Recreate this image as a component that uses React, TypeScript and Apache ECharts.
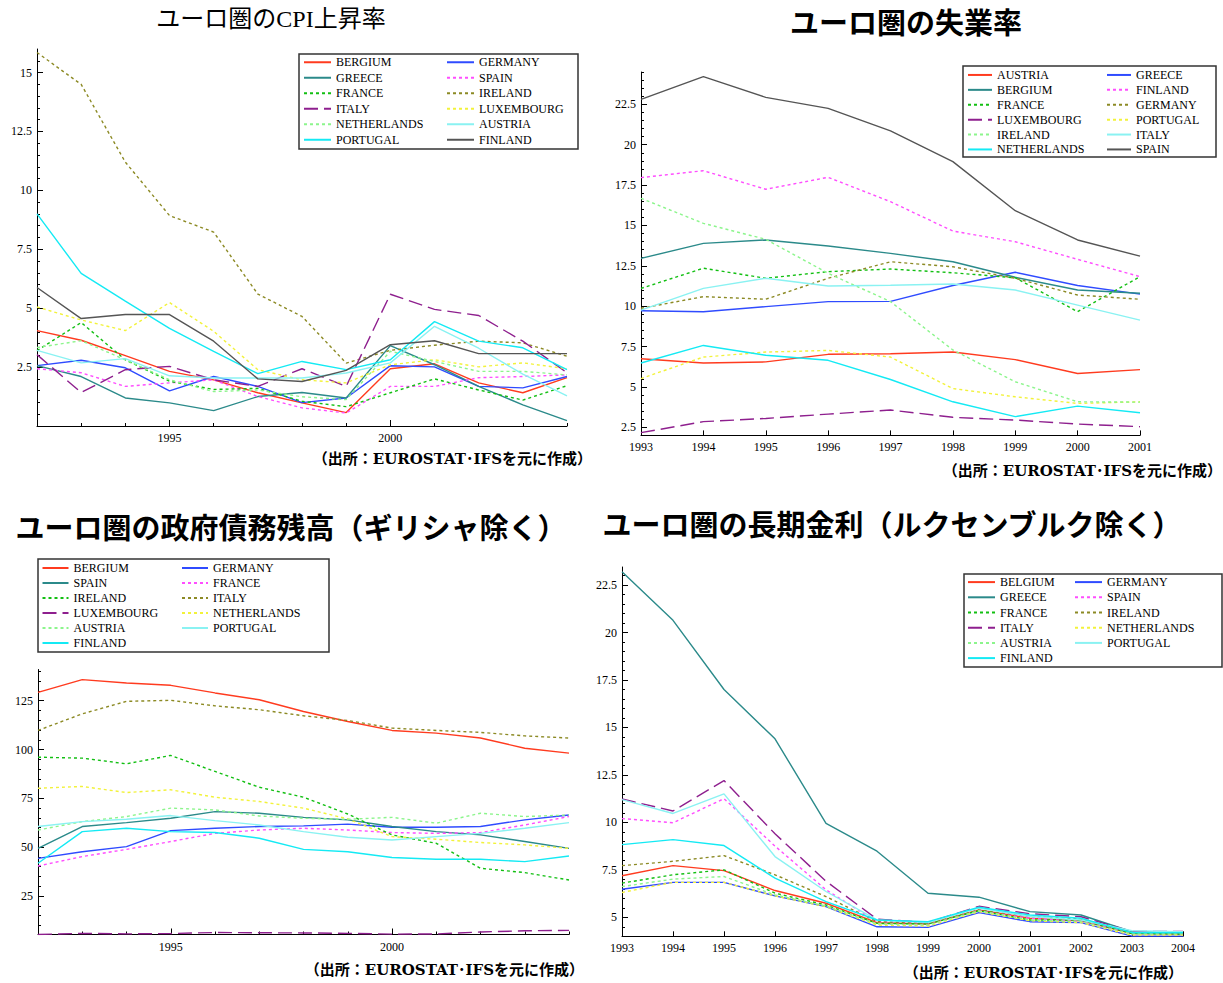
import React, { useEffect, useRef } from "react";
import * as echarts from "echarts";

// ---------- categories ----------
const cpiYears = ["1992", "1993", "1994", "1995", "1996", "1997", "1998", "1999", "2000", "2001", "2002", "2003", "2004"];
const unempYears = ["1993", "1994", "1995", "1996", "1997", "1998", "1999", "2000", "2001"];
const debtYears = ["1992", "1993", "1994", "1995", "1996", "1997", "1998", "1999", "2000", "2001", "2002", "2003", "2004"];
const rateYears = ["1993", "1994", "1995", "1996", "1997", "1998", "1999", "2000", "2001", "2002", "2003", "2004"];

// ---------- CPI inflation (%) ----------
const cpiNames = ["BERGIUM", "GERMANY", "GREECE", "SPAIN", "FRANCE", "IRELAND", "ITALY", "LUXEMBOURG", "NETHERLANDS", "AUSTRIA", "PORTUGAL", "FINLAND"];
const cpiBergium = [4.05, 3.64, 2.99, 2.32, 1.96, 1.41, 0.98, 0.57, 2.43, 2.64, 1.83, 1.41, 2.05];
const cpiGermany = [2.56, 2.79, 2.47, 1.49, 2.1, 1.68, 0.99, 1.19, 2.56, 2.51, 1.68, 1.62, 2.1];
const cpiGreece = [2.56, 2.1, 1.19, 0.98, 0.65, 1.25, 1.42, 1.19, 3.41, 2.6, 1.68, 0.9, 0.23];
const cpiSpain = [2.43, 2.26, 1.68, 1.83, 1.96, 1.25, 0.77, 0.55, 1.68, 1.68, 2.05, 2.1, 2.17];
const cpiFrance = [3.2, 4.39, 2.81, 1.9, 1.55, 1.6, 1.05, 0.82, 1.41, 2.0, 1.53, 1.1, 1.71];
const cpiIreland = [15.85, 14.5, 11.2, 8.93, 8.23, 5.6, 4.65, 2.67, 3.21, 3.43, 3.6, 3.53, 2.96];
const cpiItaly = [3.03, 1.42, 2.39, 2.53, 1.96, 1.68, 2.43, 1.68, 5.59, 4.95, 4.69, 3.6, 2.26];
const cpiLuxembourg = [5.05, 4.5, 4.05, 5.24, 4.02, 2.39, 1.96, 1.83, 2.6, 2.81, 2.51, 2.68, 2.43];
const cpiNetherlands = [3.33, 3.62, 2.81, 1.96, 1.46, 1.53, 1.24, 1.12, 3.17, 2.74, 2.32, 2.32, 2.17];
const cpiAustria = [3.21, 2.68, 2.86, 2.13, 2.04, 2.04, 2.04, 2.25, 2.68, 4.23, 3.3, 2.2, 1.28];
const cpiPortugal = [9.0, 6.48, 5.3, 4.14, 3.17, 2.22, 2.74, 2.39, 2.81, 4.43, 3.6, 3.32, 2.39];
const cpiFinland = [5.88, 4.56, 4.73, 4.73, 3.6, 2.0, 1.89, 2.36, 3.45, 3.62, 3.07, 3.07, 3.07];

// ---------- unemployment rate (%) ----------
const unempNames = ["AUSTRIA", "GREECE", "BERGIUM", "FINLAND", "FRANCE", "GERMANY", "LUXEMBOURG", "PORTUGAL", "IRELAND", "ITALY", "NETHERLANDS", "SPAIN"];
const unempAustria = [6.75, 6.48, 6.55, 7.02, 7.06, 7.16, 6.69, 5.83, 6.07];
const unempGreece = [9.72, 9.66, 9.97, 10.28, 10.3, 11.28, 12.1, 11.28, 10.75];
const unempBergium = [12.96, 13.89, 14.1, 13.73, 13.27, 12.75, 11.79, 11.0, 10.8];
const unempFinland = [17.96, 18.39, 17.24, 17.98, 16.47, 14.65, 13.99, 12.9, 11.83];
const unempFrance = [11.1, 12.35, 11.73, 12.14, 12.3, 12.07, 11.76, 9.66, 11.83];
const unempGermany = [9.87, 10.59, 10.43, 11.73, 12.75, 12.44, 11.73, 10.69, 10.43];
const unempLuxembourg = [2.17, 2.85, 3.05, 3.32, 3.57, 3.12, 2.95, 2.7, 2.54];
const unempPortugal = [5.52, 6.85, 7.16, 7.26, 6.85, 4.9, 4.39, 3.98, 4.08];
const unempIreland = [16.68, 15.13, 14.14, 12.04, 10.28, 7.29, 5.32, 4.08, 4.06];
const unempItaly = [9.76, 11.1, 11.73, 11.25, 11.3, 11.37, 11.0, 10.07, 9.14];
const unempNetherlands = [6.48, 7.57, 6.96, 6.65, 5.46, 4.08, 3.16, 3.81, 3.4];
const unempSpain = [22.81, 24.21, 22.93, 22.25, 20.85, 18.95, 15.91, 14.1, 13.1];

// ---------- government debt (% of GDP) ----------
const debtNames = ["BERGIUM", "GERMANY", "SPAIN", "FRANCE", "IRELAND", "ITALY", "LUXEMBOURG", "NETHERLANDS", "AUSTRIA", "PORTUGAL", "FINLAND"];
const debtBergium = [129.3, 135.8, 134.1, 132.9, 129.0, 125.5, 119.5, 114.4, 109.8, 108.4, 105.9, 100.7, 98.2];
const debtGermany = [44.3, 47.7, 50.3, 58.5, 59.7, 60.6, 60.9, 61.8, 60.2, 60.2, 60.6, 64.0, 66.5];
const debtSpain = [49.4, 60.6, 62.6, 64.8, 68.2, 67.4, 65.3, 64.0, 60.6, 58.0, 56.3, 52.9, 49.4];
const debtFrance = [40.4, 45.2, 48.9, 52.9, 57.1, 58.8, 59.7, 58.8, 57.5, 57.1, 57.5, 61.4, 65.7];
const debtIreland = [96.1, 95.6, 92.7, 97.0, 88.8, 80.7, 75.6, 67.0, 56.3, 52.0, 39.2, 37.0, 33.2];
const debtItaly = [109.8, 118.3, 124.7, 125.2, 122.4, 120.4, 117.3, 114.9, 111.0, 109.8, 108.8, 107.0, 105.9];
const debtLuxembourg = [5.3, 5.9, 5.6, 5.8, 6.3, 6.2, 6.1, 5.9, 5.5, 5.6, 6.6, 7.2, 7.4];
const debtNetherlands = [80.2, 81.1, 78.0, 79.4, 75.6, 73.4, 70.0, 64.5, 55.4, 54.1, 52.4, 51.2, 49.4];
const debtAustria = [58.8, 63.1, 65.7, 70.0, 69.1, 66.0, 64.8, 64.3, 65.3, 62.3, 67.4, 65.7, 66.5];
const debtPortugal = [60.6, 63.1, 64.3, 66.2, 63.6, 61.4, 58.0, 55.1, 53.7, 55.4, 57.1, 59.7, 62.6];
const debtFinland = [41.8, 58.0, 59.7, 58.0, 57.5, 54.6, 48.9, 47.7, 44.7, 43.8, 43.8, 42.6, 45.5];

// ---------- long-term interest rate (%) ----------
const rateNames = ["BELGIUM", "GERMANY", "GREECE", "SPAIN", "FRANCE", "IRELAND", "ITALY", "NETHERLANDS", "AUSTRIA", "PORTUGAL", "FINLAND"];
const rateBelgium = [7.19, 7.72, 7.46, 6.41, 5.74, 4.72, 4.65, 5.39, 4.95, 4.82, 4.15, 4.12];
const rateGermany = [6.48, 6.84, 6.84, 6.13, 5.56, 4.5, 4.47, 5.25, 4.77, 4.72, 4.01, 4.01];
const rateGreece = [23.2, 20.64, 17.0, 14.4, 9.95, 8.48, 6.27, 6.06, 5.3, 5.12, 4.24, 4.24];
const rateSpain = [10.2, 9.98, 11.25, 8.75, 6.45, 4.77, 4.68, 5.39, 4.95, 4.77, 4.19, 4.15];
const rateFrance = [6.8, 7.24, 7.5, 6.27, 5.65, 4.68, 4.65, 5.35, 4.86, 4.86, 4.15, 4.12];
const rateIreland = [7.72, 7.95, 8.25, 7.24, 6.09, 4.77, 4.68, 5.39, 5.04, 4.9, 4.19, 4.15];
const rateItaly = [11.23, 10.6, 12.2, 9.4, 6.9, 4.9, 4.73, 5.58, 5.19, 5.03, 4.25, 4.26];
const rateNetherlands = [6.31, 6.84, 6.84, 6.13, 5.56, 4.59, 4.54, 5.3, 4.82, 4.72, 4.06, 4.06];
const rateAustria = [6.62, 7.01, 7.15, 6.18, 5.6, 4.65, 4.59, 5.35, 4.86, 4.77, 4.12, 4.12];
const ratePortugal = [11.2, 10.47, 11.5, 8.2, 6.36, 4.86, 4.72, 5.48, 5.04, 4.86, 4.29, 4.24];
const rateFinland = [8.83, 9.09, 8.78, 7.06, 5.83, 4.86, 4.77, 5.53, 5.12, 4.95, 4.19, 4.19];

// ---------- y-axis tick labels ----------
const cpiTicks = [2.5, 5, 7.5, 10, 12.5, 15];
const unempTicks = [2.5, 5, 7.5, 10, 12.5, 15, 17.5, 20, 22.5];
const debtTicks = [25, 50, 75, 100, 125];
const rateTicks = [5, 7.5, 10, 12.5, 15, 17.5, 20, 22.5];

const TITLE_CPI = "ユーロ圏のCPI上昇率";
const TITLE_UNEMP = "ユーロ圏の失業率";
const TITLE_DEBT = "ユーロ圏の政府債務残高（ギリシャ除く）";
const TITLE_RATE = "ユーロ圏の長期金利（ルクセンブルク除く）";
const SOURCE_NOTE = "（出所：EUROSTAT･IFSを元に作成）";

// line styles follow the plotting order of every panel
const STYLES: { color: string; type: any; width?: number }[] = [
  { color: "#ff3b1f", type: "solid" },
  { color: "#2f4bff", type: "solid" },
  { color: "#2b8a8a", type: "solid" },
  { color: "#ff4dff", type: [3, 3] },
  { color: "#12bf12", type: [3, 3] },
  { color: "#8c8a24", type: [3, 3] },
  { color: "#8e1f8e", type: [14, 6] },
  { color: "#f2f23a", type: [3, 3] },
  { color: "#8cf58c", type: [3, 3] },
  { color: "#8af2f2", type: "solid" },
  { color: "#14eaf4", type: "solid" },
  { color: "#555555", type: "solid" },
];

const SERIF = '"Liberation Serif", "DejaVu Serif", serif';
const GOTHIC = '"Noto Sans CJK JP", sans-serif';

function minorSteps(from: number, to: number, step: number) {
  const out: number[] = [];
  for (let v = from; v <= to + 1e-9; v += step) out.push(Math.round(v * 100) / 100);
  return out;
}

type Panel = {
  key: string;
  years: string[];
  names: string[];
  values: number[][];
  grid: { left: number; top: number; width: number; height: number };
  yMin: number;
  yMax: number;
  ticks: number[];
  minor: number[];
  fiveYear: boolean;
  legend: { left1: number; left2: number; top: number; row: number; iconW: number; box: [number, number, number, number] };
};

const panels: Panel[] = [
  {
    key: "cpi",
    years: cpiYears,
    names: cpiNames,
    values: [cpiBergium, cpiGermany, cpiGreece, cpiSpain, cpiFrance, cpiIreland, cpiItaly, cpiLuxembourg, cpiNetherlands, cpiAustria, cpiPortugal, cpiFinland],
    grid: { left: 37, top: 49, width: 530, height: 377 },
    yMin: 0,
    yMax: 16,
    ticks: cpiTicks,
    minor: minorSteps(0.5, 15.5, 0.5),
    fiveYear: true,
    legend: { left1: 303, left2: 446, top: 54.5, row: 15.5, iconW: 27, box: [299, 54, 279, 95] },
  },
  {
    key: "unemp",
    years: unempYears,
    names: unempNames,
    values: [unempAustria, unempGreece, unempBergium, unempFinland, unempFrance, unempGermany, unempLuxembourg, unempPortugal, unempIreland, unempItaly, unempNetherlands, unempSpain],
    grid: { left: 641, top: 72, width: 499, height: 363.4 },
    yMin: 2.0,
    yMax: 24.5,
    ticks: unempTicks,
    minor: minorSteps(2.5, 24.5, 0.5),
    fiveYear: false,
    legend: { left1: 967, left2: 1106, top: 67.5, row: 14.9, iconW: 24, box: [963, 66, 253, 91] },
  },
  {
    key: "debt",
    years: debtYears,
    names: debtNames,
    values: [debtBergium, debtGermany, debtSpain, debtFrance, debtIreland, debtItaly, debtLuxembourg, debtNetherlands, debtAustria, debtPortugal, debtFinland],
    grid: { left: 38, top: 669.5, width: 531, height: 265 },
    yMin: 5.3,
    yMax: 141,
    ticks: debtTicks,
    minor: minorSteps(10, 140, 5),
    fiveYear: true,
    legend: { left1: 41.5, left2: 181, top: 560.5, row: 15, iconW: 26, box: [38, 559, 291, 93] },
  },
  {
    key: "rate",
    years: rateYears,
    names: rateNames,
    values: [rateBelgium, rateGermany, rateGreece, rateSpain, rateFrance, rateIreland, rateItaly, rateNetherlands, rateAustria, ratePortugal, rateFinland],
    grid: { left: 622, top: 567, width: 561, height: 369.3 },
    yMin: 4.0,
    yMax: 23.45,
    ticks: rateTicks,
    minor: minorSteps(4.5, 23, 0.5),
    fiveYear: false,
    legend: { left1: 967, left2: 1074, top: 574.5, row: 15.2, iconW: 27, box: [964, 574, 258, 93] },
  },
];

function buildOption() {
  const grids: any[] = [];
  const xAxes: any[] = [];
  const yAxes: any[] = [];
  const series: any[] = [];
  const legends: any[] = [];
  const graphics: any[] = [];
  const stripKey = (name: string) => name.slice(name.indexOf(":") + 1);

  panels.forEach((p, gi) => {
    grids.push({ ...p.grid, containLabel: false, outerBoundsMode: "none" });

    const xIndex = xAxes.length;
    xAxes.push({
      type: "category",
      gridIndex: gi,
      data: p.years,
      boundaryGap: false,
      position: "bottom",
      axisLine: { show: true, onZero: false, lineStyle: { color: "#000", width: 1 } },
      axisTick: { show: true, inside: true, length: p.fiveYear ? 3 : 5, interval: 0, lineStyle: { color: "#000" } },
      axisLabel: {
        interval: p.fiveYear ? (_i: number, v: string) => Number(v) % 5 === 0 : 0,
        color: "#000",
        fontFamily: SERIF,
        fontSize: 12,
        margin: 6,
      },
      splitLine: { show: false },
    });
    if (p.fiveYear) {
      xAxes.push({
        type: "category",
        gridIndex: gi,
        data: p.years,
        boundaryGap: false,
        position: "bottom",
        axisLine: { show: false, onZero: false },
        axisLabel: { show: false },
        axisTick: { show: true, inside: true, length: 6, interval: (_i: number, v: string) => Number(v) % 5 === 0, lineStyle: { color: "#000" } },
        splitLine: { show: false },
      });
    }

    const yIndex = yAxes.length;
    yAxes.push({
      type: "value",
      gridIndex: gi,
      min: p.yMin,
      max: p.yMax,
      position: "left",
      axisLine: { show: true, onZero: false, lineStyle: { color: "#000", width: 1 } },
      axisTick: { show: true, inside: true, length: 6, customValues: p.ticks, lineStyle: { color: "#000" } },
      axisLabel: { customValues: p.ticks, color: "#000", fontFamily: SERIF, fontSize: 12, margin: 5, formatter: (v: number) => String(v) },
      splitLine: { show: false },
    });
    yAxes.push({
      type: "value",
      gridIndex: gi,
      min: p.yMin,
      max: p.yMax,
      position: "left",
      axisLine: { show: false, onZero: false },
      axisLabel: { show: false },
      axisTick: { show: true, inside: true, length: 3, customValues: p.minor, lineStyle: { color: "#000" } },
      splitLine: { show: false },
    });

    p.names.forEach((name, si) => {
      const st = STYLES[si];
      series.push({
        type: "line",
        name: `${p.key}:${name}`,
        xAxisIndex: xIndex,
        yAxisIndex: yIndex,
        data: p.values[si],
        symbol: "none",
        showSymbol: false,
        silent: true,
        lineStyle: { color: st.color, width: st.width ?? 1.4, type: st.type },
        itemStyle: { color: st.color },
        emphasis: { disabled: true },
      });
    });

    const full = p.names.map((n) => `${p.key}:${n}`);
    const col1 = full.filter((_n, i) => i % 2 === 0);
    const col2 = full.filter((_n, i) => i % 2 === 1);
    [
      { data: col1, left: p.legend.left1 },
      { data: col2, left: p.legend.left2 },
    ].forEach((c) => {
      legends.push({
        orient: "vertical",
        left: c.left,
        top: p.legend.top,
        padding: 0,
        itemGap: 0,
        itemWidth: p.legend.iconW,
        itemHeight: 10,
        selectedMode: false,
        data: c.data,
        formatter: stripKey,
        // legend keys show only the line, no marker
        itemStyle: { opacity: 0, color: "transparent", borderWidth: 0 },
        textStyle: { color: "#000", fontFamily: SERIF, fontSize: 12, lineHeight: p.legend.row },
      });
    });

    const [bx, by, bw, bh] = p.legend.box;
    graphics.push({
      type: "rect",
      shape: { x: bx, y: by, width: bw, height: bh },
      style: { fill: "none", stroke: "#333", lineWidth: 1.5 },
      silent: true,
    });
  });

  const text = (x: number, y: number, t: string, size: number, family: string, weight: string, align: string) => ({
    type: "text",
    x,
    y,
    silent: true,
    style: {
      text: t,
      fill: "#000",
      fontSize: size,
      fontFamily: family,
      fontWeight: weight,
      align,
      textAlign: align,
      verticalAlign: "middle",
      textVerticalAlign: "middle",
    },
  });

  graphics.push(text(271, 19, TITLE_CPI, 24, '"Liberation Serif", "Noto Sans CJK JP", serif', "normal", "center"));
  graphics.push(text(906, 21, TITLE_UNEMP, 29, GOTHIC, "bold", "center"));
  graphics.push(text(291, 526, TITLE_DEBT, 29, GOTHIC, "bold", "center"));
  graphics.push(text(892, 523, TITLE_RATE, 29, GOTHIC, "bold", "center"));

  const noteFont = '"DejaVu Serif", "Noto Sans CJK JP", serif';
  graphics.push(text(592, 459, SOURCE_NOTE, 15, noteFont, "bold", "right"));
  graphics.push(text(1222, 471, SOURCE_NOTE, 15, noteFont, "bold", "right"));
  graphics.push(text(584, 970, SOURCE_NOTE, 15, noteFont, "bold", "right"));
  graphics.push(text(1183, 973, SOURCE_NOTE, 15, noteFont, "bold", "right"));

  return {
    animation: false,
    backgroundColor: "#ffffff",
    grid: grids,
    xAxis: xAxes,
    yAxis: yAxes,
    legend: legends,
    series,
    graphic: graphics,
  };
}

export default function App() {
  const ref = useRef<HTMLDivElement>(null);

  useEffect(() => {
    document.body.style.margin = "0";
    if (!ref.current) return;
    const chart = echarts.init(ref.current, null, { renderer: "svg" });
    chart.setOption(buildOption() as any);
    return () => chart.dispose();
  }, []);

  return <div ref={ref} style={{ width: 1223, height: 983 }} />;
}
